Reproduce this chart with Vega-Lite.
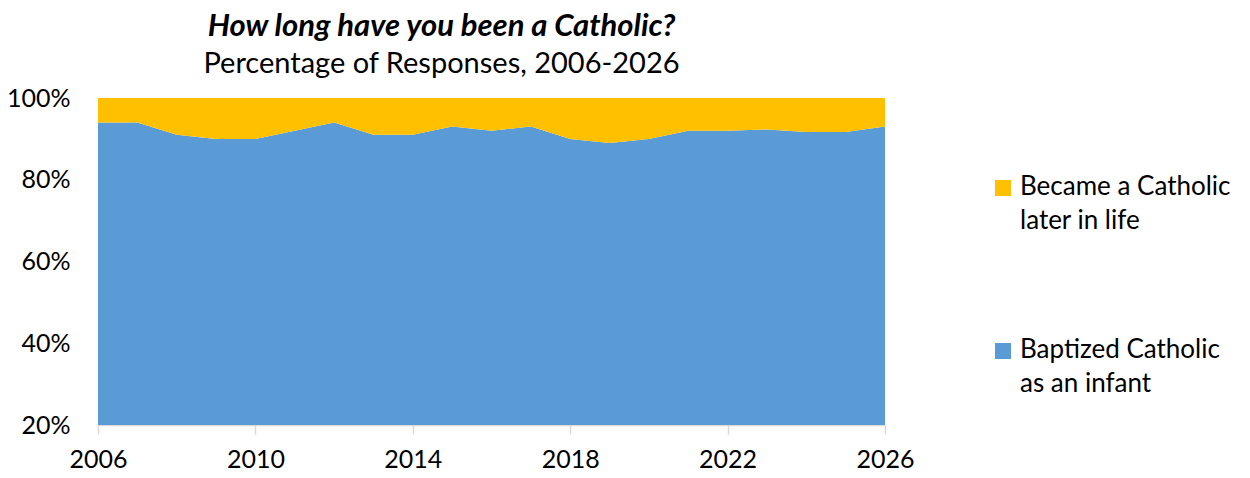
{
  "$schema": "https://vega.github.io/schema/vega-lite/v6.json",
  "autosize": "none",
  "width": 787,
  "height": 327,
  "padding": {"left": 98, "top": 98, "right": 365, "bottom": 53},
  "background": "white",
  "config": {"view": {"stroke": null}, "font": "Lato"},
  "title": {
    "text": "How long have you been a Catholic?",
    "subtitle": "Percentage of Responses, 2006-2026",
    "anchor": "middle",
    "dx": -50,
    "offset": 6,
    "font": "Lato",
    "fontSize": 31,
    "fontWeight": "bold",
    "fontStyle": "italic",
    "color": "#000000",
    "subtitleFont": "Lato",
    "subtitleFontSize": 29,
    "subtitleColor": "#000000",
    "subtitlePadding": 7
  },
  "data": {
    "values": [
      {"year": 2006, "group": "Baptized Catholic as an infant", "pct": 94},
      {"year": 2007, "group": "Baptized Catholic as an infant", "pct": 94},
      {"year": 2008, "group": "Baptized Catholic as an infant", "pct": 91},
      {"year": 2009, "group": "Baptized Catholic as an infant", "pct": 90},
      {"year": 2010, "group": "Baptized Catholic as an infant", "pct": 90},
      {"year": 2011, "group": "Baptized Catholic as an infant", "pct": 92},
      {"year": 2012, "group": "Baptized Catholic as an infant", "pct": 94},
      {"year": 2013, "group": "Baptized Catholic as an infant", "pct": 91},
      {"year": 2014, "group": "Baptized Catholic as an infant", "pct": 91},
      {"year": 2015, "group": "Baptized Catholic as an infant", "pct": 93},
      {"year": 2016, "group": "Baptized Catholic as an infant", "pct": 92},
      {"year": 2017, "group": "Baptized Catholic as an infant", "pct": 93},
      {"year": 2018, "group": "Baptized Catholic as an infant", "pct": 90},
      {"year": 2019, "group": "Baptized Catholic as an infant", "pct": 89},
      {"year": 2020, "group": "Baptized Catholic as an infant", "pct": 90},
      {"year": 2021, "group": "Baptized Catholic as an infant", "pct": 92},
      {"year": 2022, "group": "Baptized Catholic as an infant", "pct": 92},
      {"year": 2023, "group": "Baptized Catholic as an infant", "pct": 92.3},
      {"year": 2024, "group": "Baptized Catholic as an infant", "pct": 91.7},
      {"year": 2025, "group": "Baptized Catholic as an infant", "pct": 91.7},
      {"year": 2026, "group": "Baptized Catholic as an infant", "pct": 93},
      {"year": 2006, "group": "Became a Catholic later in life", "pct": 6},
      {"year": 2007, "group": "Became a Catholic later in life", "pct": 6},
      {"year": 2008, "group": "Became a Catholic later in life", "pct": 9},
      {"year": 2009, "group": "Became a Catholic later in life", "pct": 10},
      {"year": 2010, "group": "Became a Catholic later in life", "pct": 10},
      {"year": 2011, "group": "Became a Catholic later in life", "pct": 8},
      {"year": 2012, "group": "Became a Catholic later in life", "pct": 6},
      {"year": 2013, "group": "Became a Catholic later in life", "pct": 9},
      {"year": 2014, "group": "Became a Catholic later in life", "pct": 9},
      {"year": 2015, "group": "Became a Catholic later in life", "pct": 7},
      {"year": 2016, "group": "Became a Catholic later in life", "pct": 8},
      {"year": 2017, "group": "Became a Catholic later in life", "pct": 7},
      {"year": 2018, "group": "Became a Catholic later in life", "pct": 10},
      {"year": 2019, "group": "Became a Catholic later in life", "pct": 11},
      {"year": 2020, "group": "Became a Catholic later in life", "pct": 10},
      {"year": 2021, "group": "Became a Catholic later in life", "pct": 8},
      {"year": 2022, "group": "Became a Catholic later in life", "pct": 8},
      {"year": 2023, "group": "Became a Catholic later in life", "pct": 7.7},
      {"year": 2024, "group": "Became a Catholic later in life", "pct": 8.3},
      {"year": 2025, "group": "Became a Catholic later in life", "pct": 8.3},
      {"year": 2026, "group": "Became a Catholic later in life", "pct": 7}
    ]
  },
  "mark": {"type": "area", "clip": true, "opacity": 1},
  "encoding": {
    "x": {
      "field": "year",
      "type": "quantitative",
      "scale": {"domain": [2006, 2026], "nice": false, "zero": false},
      "axis": {
        "title": null,
        "values": [2006, 2010, 2014, 2018, 2022, 2026],
        "format": "d",
        "grid": false,
        "domainColor": "#d9d9d9",
        "domainWidth": 1.5,
        "tickColor": "#d9d9d9",
        "tickWidth": 1.5,
        "tickSize": 9,
        "labelFontSize": 25,
        "labelColor": "#000000",
        "labelPadding": 13,
        "labelFlush": false
      }
    },
    "y": {
      "field": "pct",
      "type": "quantitative",
      "stack": "zero",
      "scale": {"domain": [20, 100], "nice": false, "zero": false},
      "axis": {
        "title": null,
        "values": [20, 40, 60, 80, 100],
        "labelExpr": "datum.value + '%'",
        "grid": false,
        "domain": false,
        "ticks": false,
        "labelFontSize": 25,
        "labelColor": "#000000",
        "labelPadding": 28
      }
    },
    "color": {
      "field": "group",
      "type": "nominal",
      "scale": {
        "domain": ["Became a Catholic later in life", "Baptized Catholic as an infant"],
        "range": ["#FFC000", "#5B9BD5"]
      },
      "legend": {
        "title": null,
        "orient": "none",
        "legendX": 892,
        "legendY": 77,
        "symbolType": "square",
        "symbolSize": 256,
        "symbolStrokeWidth": 0,
        "symbolOpacity": 1,
        "labelFontSize": 26,
        "labelColor": "#000000",
        "labelLimit": 300,
        "labelOffset": 4,
        "labelExpr": "datum.label == 'Became a Catholic later in life' ? ['Became a Catholic', 'later in life'] : ['Baptized Catholic', 'as an infant']",
        "labelBaseline": "top",
        "rowPadding": 103,
        "encode": {
          "labels": {"update": {"lineHeight": {"value": 34}, "dy": {"value": -14}}}
        }
      }
    },
    "order": {"field": "group", "sort": "ascending"}
  }
}
